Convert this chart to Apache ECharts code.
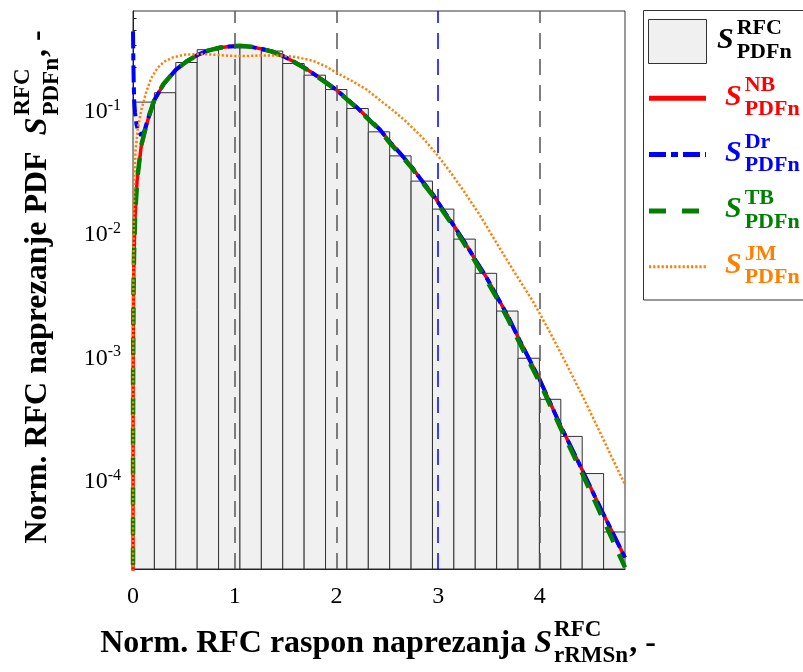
<!DOCTYPE html>
<html><head><meta charset="utf-8">
<script src="https://cdn.jsdelivr.net/npm/echarts@6/dist/echarts.min.js"></script>
<style>html,body{margin:0;padding:0;background:#fff}#c{width:803px;height:672px}</style>
</head><body><div id="c"></div>
<script>
// ---------- data ----------
const binEdges = [0, 0.2103, 0.4206, 0.6309, 0.8412, 1.0515, 1.2618, 1.4721, 1.6824, 1.8927, 2.1030, 2.3133,
  2.5236, 2.7339, 2.9442, 3.1545, 3.3648, 3.5751, 3.7854, 3.9957, 4.2060, 4.4163, 4.6266, 4.8369];
const binValues = [0.104, 0.124, 0.218, 0.277, 0.290, 0.288, 0.270, 0.214, 0.172, 0.1316, 0.0923, 0.0597,
  0.0381, 0.0238, 0.0141, 0.00805, 0.00425, 0.0021, 0.00087, 0.000404, 0.000202, 0.000101, 0.0000339];

const nbCurve = [[0.00001,0.000006],[0.001,0.0006],[0.005,0.003],[0.01,0.006],[0.02,0.012],[0.04,0.024],[0.08,0.045],
  [0.145,0.074],[0.21,0.108],[0.3,0.145],[0.42,0.19],[0.526,0.222],[0.63,0.25],[0.736,0.272],[0.85,0.287],[0.946,0.294],
  [1.05,0.297],[1.157,0.292],[1.26,0.282],[1.367,0.268],[1.47,0.247],[1.577,0.222],[1.68,0.199],[1.787,0.174],[1.89,0.152],
  [1.998,0.131],[2.1,0.111],[2.208,0.093],[2.31,0.077],[2.427,0.0624],[2.52,0.050],[2.629,0.0398],[2.74,0.031],[2.839,0.024],
  [2.95,0.0185],[3.05,0.0138],[3.16,0.0102],[3.26,0.0076],[3.37,0.0054],[3.47,0.0040],[3.574,0.0028],[3.68,0.00195],
  [3.8,0.00122],[4.0,0.00058],[4.2,0.00025],[4.4,0.000115],[4.6,0.000052],[4.8369,0.000021]];

const drCurve = [[0,0.39],[0.003,0.24],[0.007,0.15],[0.012,0.105],[0.02,0.085],[0.035,0.068],[0.055,0.06],[0.08,0.056],
  [0.11,0.06],[0.145,0.075],[0.21,0.108],[0.3,0.145],[0.42,0.19],[0.526,0.222],[0.63,0.25],[0.736,0.272],[0.85,0.287],[0.946,0.294],
  [1.05,0.297],[1.157,0.292],[1.26,0.282],[1.367,0.268],[1.47,0.247],[1.577,0.222],[1.68,0.199],[1.787,0.174],[1.89,0.152],
  [1.998,0.131],[2.1,0.111],[2.208,0.093],[2.31,0.077],[2.427,0.0624],[2.52,0.050],[2.629,0.0398],[2.74,0.031],[2.839,0.024],
  [2.95,0.0185],[3.05,0.0138],[3.16,0.0102],[3.26,0.0076],[3.37,0.0054],[3.47,0.0040],[3.574,0.0028],[3.68,0.00195],
  [3.8,0.00122],[4.0,0.00058],[4.2,0.00025],[4.4,0.000115],[4.6,0.000052],[4.8369,0.000021]];

const tbCurve = [[0.00001,0.000006],[0.001,0.0006],[0.005,0.003],[0.01,0.006],[0.02,0.012],[0.04,0.024],[0.08,0.046],
  [0.145,0.075],[0.21,0.109],[0.3,0.146],[0.42,0.19],[0.526,0.222],[0.63,0.25],[0.736,0.272],[0.85,0.287],[0.946,0.295],
  [1.05,0.298],[1.157,0.293],[1.26,0.282],[1.367,0.267],[1.47,0.246],[1.577,0.221],[1.68,0.198],[1.787,0.173],[1.89,0.151],
  [1.998,0.130],[2.1,0.110],[2.208,0.092],[2.31,0.076],[2.427,0.0615],[2.52,0.049],[2.629,0.039],[2.74,0.0305],[2.839,0.0235],
  [2.95,0.018],[3.05,0.0134],[3.16,0.0099],[3.26,0.0073],[3.37,0.0052],[3.47,0.0038],[3.574,0.0027],[3.68,0.00185],
  [3.8,0.00116],[4.0,0.00055],[4.2,0.00024],[4.4,0.000108],[4.6,0.000047],[4.8369,0.0000175]];

const jmCurve = [[0.00001,0.000008],[0.001,0.0008],[0.004,0.004],[0.008,0.012],[0.013,0.025],[0.025,0.042],[0.046,0.062],
  [0.079,0.088],[0.128,0.124],[0.177,0.162],[0.243,0.198],[0.309,0.222],[0.393,0.24],[0.5,0.252],[0.656,0.256],[0.8,0.252],
  [0.951,0.247],[1.1,0.246],[1.28,0.249],[1.45,0.248],[1.6,0.242],[1.77,0.225],[1.9,0.202],[2.0,0.18],[2.15,0.155],[2.3,0.131],
  [2.427,0.108],[2.55,0.09],[2.672,0.074],[2.852,0.053],[3.0,0.038],[3.115,0.0285],[3.246,0.0201],[3.41,0.0126],[3.574,0.0075],
  [3.738,0.0045],[3.934,0.0025],[4.1,0.00141],[4.263,0.000776],[4.43,0.000412],[4.59,0.000219],[4.7,0.000141],[4.8369,0.000082]];

const xTickValues = [0, 1, 2, 3, 4];
const yMajorTicks = [1e-4, 1e-3, 1e-2, 1e-1];
const yMinorTicks = [2e-5,3e-5,4e-5,5e-5,6e-5,7e-5,8e-5,9e-5, 2e-4,3e-4,4e-4,5e-4,6e-4,7e-4,8e-4,9e-4,
  2e-3,3e-3,4e-3,5e-3,6e-3,7e-3,8e-3,9e-3, 2e-2,3e-2,4e-2,5e-2,6e-2,7e-2,8e-2,9e-2, 2e-1,3e-1,4e-1,5e-1];
const grayRefLines = [1, 2, 4];
const blueRefLines = [3];
const X_MIN = 0, X_MAX = 4.8369, Y_MIN = 1.698e-5, Y_MAX = 0.5704;

// ---------- helpers ----------
const FF = '"Liberation Serif", "Times New Roman", serif';
const mctx = document.createElement('canvas').getContext('2d');
function tw(t, f) { mctx.font = f; return mctx.measureText(t).width; }
function txt(t, x, y, font, fill) {
  return { type: 'text', x: x, y: y, silent: true,
    style: { text: t, font: font, fill: fill || '#000', align: 'left', verticalAlign: 'middle' } };
}
function buildS(x, y, sup, sub, o, color) {
  const fS = `italic bold ${o.s}px ${FF}`, fSS = `bold ${o.ss}px ${FF}`;
  const wS = tw('S', fS);
  const xs = x + wS + o.gap;
  return { kids: [txt('S', x, y + o.dS, fS, color), txt(sup, xs, y + o.dSup, fSS, color), txt(sub, xs, y + o.dSub, fSS, color)],
           end: xs + Math.max(tw(sup, fSS), tw(sub, fSS)) };
}
function buildTitle(main, sup, sub, o) {
  const fMain = `bold ${o.main}px ${FF}`;
  let kids = [txt(main, 0, 0, fMain)];
  const s = buildS(tw(main, fMain), 0, sup, sub, o);
  kids = kids.concat(s.kids);
  kids.push(txt(', -', s.end + 1, 0, fMain));
  const total = s.end + 1 + tw(', -', fMain);
  kids.forEach(k => { k.x -= total / 2; });
  return kids;
}

const titleOpt = { main: 32, s: 32, ss: 23, gap: 2, dS: 0, dSup: -13.5, dSub: 12.5 };
const xTitle = { type: 'group', x: 378, y: 643.5, children: buildTitle('Norm. RFC raspon naprezanja ', 'RFC', 'rRMSn', titleOpt) };
const yTitle = { type: 'group', x: 38, y: 287, rotation: Math.PI / 2,
  children: buildTitle('Norm. RFC naprezanje PDF  ', 'RFC', 'PDFn', Object.assign({}, titleOpt, { dSup: -15, dSub: 14 })) };

// legend
const legOpt = { s: 30, ss: 22, gap: 3, dS: -1.5, dSup: -12.5, dSub: 11 };
const legendItems = [
  { sup: 'NB', color: '#ff0000', y: 98.3, dash: null, width: 5 },
  { sup: 'Dr', color: '#0000ff', y: 154.5, dash: [17, 5, 7, 5], width: 5 },
  { sup: 'TB', color: '#008000', y: 211, dash: [17, 16], width: 5 },
  { sup: 'JM', color: '#ff8000', y: 266.7, dash: [2.2, 2], width: 3 }
];
let legendEls = [
  { type: 'rect', shape: { x: 643.5, y: 10.5, width: 175, height: 289.5 }, style: { fill: '#fff', stroke: '#333', lineWidth: 1 }, silent: true },
  { type: 'rect', shape: { x: 648.5, y: 19.5, width: 58, height: 44 }, style: { fill: '#f0f0f0', stroke: '#333', lineWidth: 1 }, silent: true }
];
legendEls = legendEls.concat(buildS(717, 41.3, 'RFC', 'PDFn', legOpt, '#000').kids);
legendItems.forEach(it => {
  legendEls.push({ type: 'line', silent: true, shape: { x1: 649, y1: it.y, x2: 706, y2: it.y },
    style: { stroke: it.color, lineWidth: it.width, lineDash: it.dash || null, lineCap: 'butt' } });
  legendEls = legendEls.concat(buildS(725, it.y, it.sup, 'PDFn', legOpt, it.color).kids);
});

// ---------- chart ----------
const chart = echarts.init(document.getElementById('c'), null, { renderer: 'canvas' });
const histData = binValues.map((v, i) => [binEdges[i], binEdges[i + 1], v]);
const refData = grayRefLines.map(v => ({ xAxis: v, lineStyle: { color: '#555', type: [16, 10], width: 1.5 } }))
  .concat(blueRefLines.map(v => ({ xAxis: v, lineStyle: { color: '#0000ff', type: [16, 10], width: 1.5 } })));

chart.setOption({
  animation: false,
  backgroundColor: '#fff',
  grid: { left: 133, right: 178, top: 11, bottom: 103, show: true, borderColor: '#333', borderWidth: 1, backgroundColor: 'transparent' },
  xAxis: {
    type: 'value', min: X_MIN, max: X_MAX,
    axisLine: { lineStyle: { color: '#222', width: 1 } },
    axisTick: { show: true, inside: true, length: 6, customValues: xTickValues, lineStyle: { color: '#222' } },
    axisLabel: { customValues: xTickValues, fontFamily: FF, fontSize: 24, color: '#000', margin: 16 },
    splitLine: { show: false }
  },
  yAxis: [{
    type: 'log', min: Y_MIN, max: Y_MAX, position: 'left',
    axisLine: { show: true, lineStyle: { color: '#222', width: 1 } },
    axisTick: { show: true, inside: true, length: 7, customValues: yMajorTicks, lineStyle: { color: '#222' } },
    axisLabel: {
      customValues: yMajorTicks, margin: 12, padding: [15, 0, 0, 0],
      formatter: v => '{b|10}{s|' + Math.round(Math.log10(v)) + '}',
      rich: {
        b: { fontFamily: FF, fontSize: 24, lineHeight: 28, color: '#000' },
        s: { fontFamily: FF, fontSize: 16, lineHeight: 16, verticalAlign: 'top', color: '#000' }
      }
    },
    splitLine: { show: false }, minorTick: { show: false }
  }, {
    type: 'log', min: Y_MIN, max: Y_MAX, position: 'left',
    axisLine: { show: false },
    axisTick: { show: true, inside: true, length: 3.5, customValues: yMinorTicks, lineStyle: { color: '#222' } },
    axisLabel: { show: false }, splitLine: { show: false }
  }],
  series: [
    {
      type: 'custom', name: 'hist', z: 1, data: histData, encode: { x: [0, 1], y: 2 }, clip: true,
      renderItem: function (params, api) {
        const p0 = api.coord([api.value(0), api.value(2)]);
        const p1 = api.coord([api.value(1), api.value(2)]);
        const bottom = params.coordSys.y + params.coordSys.height;
        return { type: 'rect', shape: { x: p0[0], y: p0[1], width: p1[0] - p0[0], height: bottom - p0[1] },
          style: { fill: '#f0f0f0', stroke: '#333', lineWidth: 1 } };
      }
    },
    {
      type: 'line', name: 'ref', z: 2, data: [], silent: true,
      markLine: { silent: true, symbol: ['none', 'none'], label: { show: false }, data: refData, animation: false }
    },
    { type: 'line', name: 'NB', z: 3, data: nbCurve, showSymbol: false, clip: true, lineStyle: { color: '#ff0000', width: 3.5 } },
    { type: 'line', name: 'Dr', z: 4, data: drCurve, showSymbol: false, clip: true, lineStyle: { color: '#0000ff', width: 4, type: [17, 5, 7, 5] } },
    { type: 'line', name: 'TB', z: 5, data: tbCurve, showSymbol: false, clip: true, lineStyle: { color: '#008000', width: 4.5, type: [17, 13] } },
    { type: 'line', name: 'JM', z: 6, data: jmCurve, showSymbol: false, clip: true, lineStyle: { color: '#ff8000', width: 2.5, type: [2.2, 2] } }
  ],
  graphic: [xTitle, yTitle].concat(legendEls)
});
</script>
</body></html>
